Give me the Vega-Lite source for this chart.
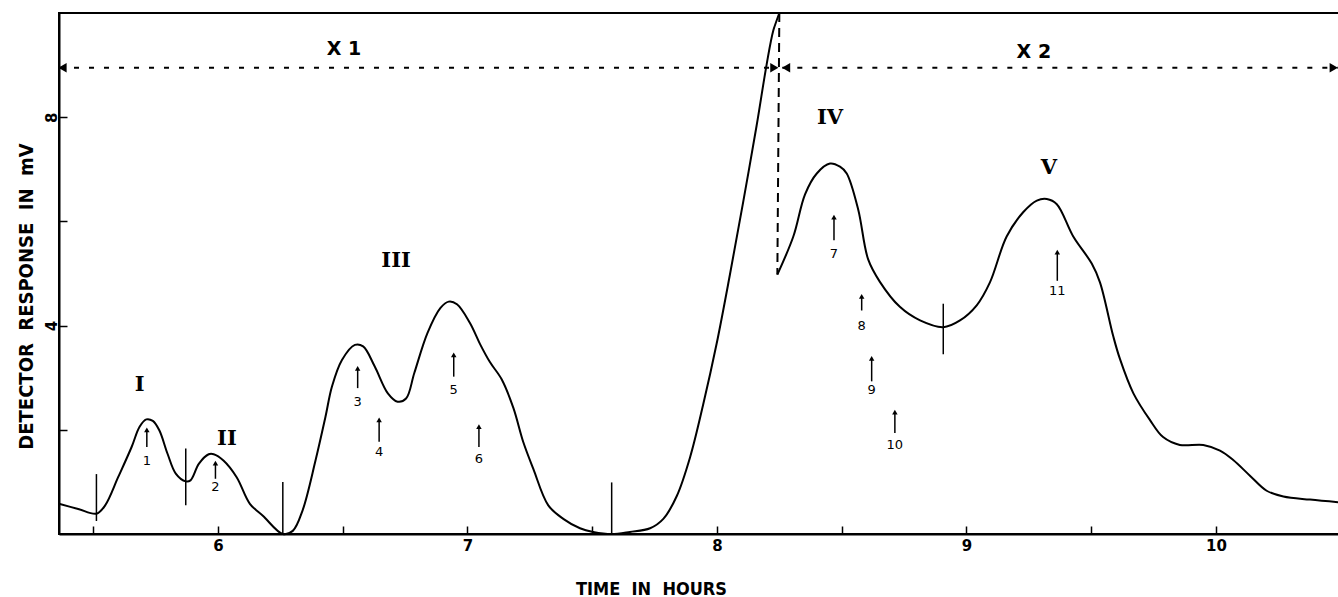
{
  "$schema": "https://vega.github.io/schema/vega-lite/v6.json",
  "width": 1281,
  "height": 521,
  "autosize": {"type": "none"},
  "padding": {"left": 59, "top": 13, "right": 0, "bottom": 63},
  "background": "white",
  "config": {
    "view": {"stroke": "black", "strokeWidth": 2},
    "font": "DejaVu Sans",
    "axis": {"grid": false, "domainColor": "black", "domainWidth": 2, "tickColor": "black", "tickWidth": 1.5, "labelColor": "black", "titleColor": "black", "labelFont": "DejaVu Sans", "titleFont": "DejaVu Sans Condensed, Liberation Sans Narrow, DejaVu Sans", "labelFontWeight": "bold", "titleFontWeight": "bold"}
  },
  "datasets": {
    "curve": [
      {"seg": "a", "x": 5.363, "y": 0.58}, {"seg": "a", "x": 5.44, "y": 0.48}, {"seg": "a", "x": 5.513, "y": 0.39},
      {"seg": "a", "x": 5.548, "y": 0.55}, {"seg": "a", "x": 5.6, "y": 1.09}, {"seg": "a", "x": 5.654, "y": 1.67},
      {"seg": "a", "x": 5.686, "y": 2.06}, {"seg": "a", "x": 5.713, "y": 2.2}, {"seg": "a", "x": 5.739, "y": 2.17},
      {"seg": "a", "x": 5.765, "y": 1.99}, {"seg": "a", "x": 5.798, "y": 1.54}, {"seg": "a", "x": 5.831, "y": 1.16},
      {"seg": "a", "x": 5.871, "y": 1.01}, {"seg": "a", "x": 5.89, "y": 1.03}, {"seg": "a", "x": 5.924, "y": 1.35},
      {"seg": "a", "x": 5.963, "y": 1.53}, {"seg": "a", "x": 5.983, "y": 1.53}, {"seg": "a", "x": 6.022, "y": 1.41},
      {"seg": "a", "x": 6.075, "y": 1.09}, {"seg": "a", "x": 6.128, "y": 0.58}, {"seg": "a", "x": 6.18, "y": 0.35},
      {"seg": "a", "x": 6.26, "y": 0.0}, {"seg": "a", "x": 6.3, "y": 0.06}, {"seg": "a", "x": 6.339, "y": 0.45},
      {"seg": "a", "x": 6.391, "y": 1.41}, {"seg": "a", "x": 6.431, "y": 2.25}, {"seg": "a", "x": 6.457, "y": 2.83},
      {"seg": "a", "x": 6.497, "y": 3.34}, {"seg": "a", "x": 6.549, "y": 3.63}, {"seg": "a", "x": 6.582, "y": 3.6},
      {"seg": "a", "x": 6.628, "y": 3.22}, {"seg": "a", "x": 6.681, "y": 2.7}, {"seg": "a", "x": 6.72, "y": 2.54},
      {"seg": "a", "x": 6.754, "y": 2.6}, {"seg": "a", "x": 6.787, "y": 3.09}, {"seg": "a", "x": 6.84, "y": 3.86},
      {"seg": "a", "x": 6.892, "y": 4.34}, {"seg": "a", "x": 6.925, "y": 4.46}, {"seg": "a", "x": 6.958, "y": 4.41},
      {"seg": "a", "x": 7.01, "y": 4.05}, {"seg": "a", "x": 7.05, "y": 3.65}, {"seg": "a", "x": 7.09, "y": 3.3},
      {"seg": "a", "x": 7.137, "y": 2.97}, {"seg": "a", "x": 7.184, "y": 2.42}, {"seg": "a", "x": 7.224, "y": 1.76},
      {"seg": "a", "x": 7.264, "y": 1.25}, {"seg": "a", "x": 7.324, "y": 0.55}, {"seg": "a", "x": 7.384, "y": 0.29},
      {"seg": "a", "x": 7.451, "y": 0.11}, {"seg": "a", "x": 7.504, "y": 0.04}, {"seg": "a", "x": 7.578, "y": 0.0},
      {"seg": "a", "x": 7.651, "y": 0.04}, {"seg": "a", "x": 7.732, "y": 0.11}, {"seg": "a", "x": 7.785, "y": 0.29},
      {"seg": "a", "x": 7.839, "y": 0.73}, {"seg": "a", "x": 7.892, "y": 1.47}, {"seg": "a", "x": 7.945, "y": 2.49},
      {"seg": "a", "x": 7.999, "y": 3.66}, {"seg": "a", "x": 8.052, "y": 4.98}, {"seg": "a", "x": 8.105, "y": 6.37},
      {"seg": "a", "x": 8.159, "y": 7.84}, {"seg": "a", "x": 8.199, "y": 9.01}, {"seg": "a", "x": 8.226, "y": 9.67},
      {"seg": "a", "x": 8.25, "y": 10.0},
      {"seg": "b", "x": 8.242, "y": 4.98}, {"seg": "b", "x": 8.306, "y": 5.71}, {"seg": "b", "x": 8.353, "y": 6.52},
      {"seg": "b", "x": 8.4, "y": 6.92}, {"seg": "b", "x": 8.453, "y": 7.11}, {"seg": "b", "x": 8.493, "y": 7.05},
      {"seg": "b", "x": 8.52, "y": 6.92}, {"seg": "b", "x": 8.566, "y": 6.23}, {"seg": "b", "x": 8.606, "y": 5.27},
      {"seg": "b", "x": 8.653, "y": 4.84}, {"seg": "b", "x": 8.733, "y": 4.36}, {"seg": "b", "x": 8.814, "y": 4.1},
      {"seg": "b", "x": 8.907, "y": 3.97}, {"seg": "b", "x": 8.974, "y": 4.1}, {"seg": "b", "x": 9.041, "y": 4.39},
      {"seg": "b", "x": 9.094, "y": 4.83}, {"seg": "b", "x": 9.161, "y": 5.71}, {"seg": "b", "x": 9.228, "y": 6.18},
      {"seg": "b", "x": 9.282, "y": 6.4}, {"seg": "b", "x": 9.322, "y": 6.43}, {"seg": "b", "x": 9.362, "y": 6.33},
      {"seg": "b", "x": 9.428, "y": 5.71}, {"seg": "b", "x": 9.502, "y": 5.19}, {"seg": "b", "x": 9.535, "y": 4.83},
      {"seg": "b", "x": 9.588, "y": 3.8}, {"seg": "b", "x": 9.615, "y": 3.36}, {"seg": "b", "x": 9.669, "y": 2.7},
      {"seg": "b", "x": 9.735, "y": 2.19}, {"seg": "b", "x": 9.788, "y": 1.86}, {"seg": "b", "x": 9.855, "y": 1.71},
      {"seg": "b", "x": 9.949, "y": 1.71}, {"seg": "b", "x": 10.016, "y": 1.6}, {"seg": "b", "x": 10.069, "y": 1.42},
      {"seg": "b", "x": 10.136, "y": 1.12}, {"seg": "b", "x": 10.203, "y": 0.83}, {"seg": "b", "x": 10.27, "y": 0.72},
      {"seg": "b", "x": 10.377, "y": 0.66}, {"seg": "b", "x": 10.489, "y": 0.61}
    ],
    "markers": [
      {"x": 5.513, "y": 0.25, "y2": 1.15},
      {"x": 5.871, "y": 0.55, "y2": 1.64},
      {"x": 6.26, "y": 0.0, "y2": 1.0},
      {"x": 7.578, "y": 0.0, "y2": 0.99},
      {"x": 8.907, "y": 3.45, "y2": 4.42}
    ],
    "drop": [{"x": 8.25, "x2": 8.242, "y": 10.0, "y2": 4.98}],
    "ranges": [
      {"label": "X 1", "x": 5.363, "x2": 8.245, "y": 8.95, "lx": 6.505, "ly": 9.3},
      {"label": "X 2", "x": 8.262, "x2": 10.489, "y": 8.95, "lx": 9.27, "ly": 9.25}
    ],
    "heads": [
      {"x": 5.377, "y": 8.95, "dir": "left"},
      {"x": 8.23, "y": 8.95, "dir": "right"},
      {"x": 8.277, "y": 8.95, "dir": "left"},
      {"x": 10.472, "y": 8.95, "dir": "right"}
    ],
    "peaks": [
      {"n": "1", "x": 5.715, "y": 1.67, "y2": 2.0, "ly": 1.4},
      {"n": "2", "x": 5.99, "y": 1.06, "y2": 1.36, "ly": 0.9},
      {"n": "3", "x": 6.56, "y": 2.8, "y2": 3.18, "ly": 2.53},
      {"n": "4", "x": 6.646, "y": 1.77, "y2": 2.19, "ly": 1.57},
      {"n": "5", "x": 6.945, "y": 3.02, "y2": 3.44, "ly": 2.76},
      {"n": "6", "x": 7.046, "y": 1.67, "y2": 2.06, "ly": 1.44},
      {"n": "7", "x": 8.469, "y": 5.64, "y2": 6.08, "ly": 5.37},
      {"n": "8", "x": 8.58, "y": 4.29, "y2": 4.56, "ly": 3.99},
      {"n": "9", "x": 8.62, "y": 2.93, "y2": 3.37, "ly": 2.77},
      {"n": "10", "x": 8.713, "y": 1.94, "y2": 2.34, "ly": 1.71},
      {"n": "11", "x": 9.364, "y": 4.86, "y2": 5.41, "ly": 4.67}
    ],
    "fractions": [
      {"label": "I", "x": 5.686, "y": 2.86},
      {"label": "II", "x": 6.036, "y": 1.83},
      {"label": "III", "x": 6.714, "y": 5.24},
      {"label": "IV", "x": 8.453, "y": 7.99},
      {"label": "V", "x": 9.33, "y": 7.03}
    ]
  },
  "layer": [
    {
      "data": {"name": "curve"},
      "mark": {"type": "line", "color": "black", "strokeWidth": 2, "interpolate": "catmull-rom"},
      "encoding": {
        "x": {"field": "x", "type": "quantitative", "scale": {"domain": [5.363, 10.497], "nice": false, "zero": false},
          "axis": {"title": "TIME\u00a0\u00a0IN\u00a0\u00a0HOURS", "values": [5.5, 6, 6.5, 7, 7.5, 8, 8.5, 9, 9.5, 10],
            "labelExpr": "datum.value % 1 === 0 ? format(datum.value, 'd') : ''",
            "tickSize": -8, "labelPadding": 12, "labelFontSize": 15, "labelBaseline": "top",
            "titleFontSize": 18, "titleX": 592, "titleY": 55, "titleAlign": "center", "titleBaseline": "middle"}},
        "y": {"field": "y", "type": "quantitative", "scale": {"domain": [0, 10], "nice": false, "zero": false},
          "axis": {"title": "DETECTOR\u00a0\u00a0RESPONSE\u00a0\u00a0IN\u00a0\u00a0mV", "values": [2, 4, 6, 8],
            "labelExpr": "datum.value === 4 || datum.value === 8 ? format(datum.value, 'd') : ''",
            "tickSize": -8, "labelPadding": 8, "labelFontSize": 15, "labelAngle": -90, "labelAlign": "center", "labelBaseline": "bottom",
            "titleFontSize": 20, "titleAngle": -90, "titleX": -33, "titleY": 283, "titleAlign": "center", "titleBaseline": "middle"}},
        "detail": {"field": "seg"}
      }
    },
    {
      "data": {"name": "markers"},
      "mark": {"type": "rule", "color": "black", "strokeWidth": 1.5},
      "encoding": {
        "x": {"field": "x", "type": "quantitative"},
        "y": {"field": "y", "type": "quantitative"},
        "y2": {"field": "y2"}
      }
    },
    {
      "data": {"name": "drop"},
      "mark": {"type": "rule", "color": "black", "strokeWidth": 2, "strokeDash": [9, 6]},
      "encoding": {
        "x": {"field": "x", "type": "quantitative"},
        "x2": {"field": "x2"},
        "y": {"field": "y", "type": "quantitative"},
        "y2": {"field": "y2"}
      }
    },
    {
      "data": {"name": "ranges"},
      "mark": {"type": "rule", "color": "black", "strokeWidth": 2, "strokeDash": [5, 10]},
      "encoding": {
        "x": {"field": "x", "type": "quantitative"},
        "x2": {"field": "x2"},
        "y": {"field": "y", "type": "quantitative"}
      }
    },
    {
      "data": {"name": "ranges"},
      "mark": {"type": "text", "color": "black", "fontSize": 19, "fontWeight": "bold", "font": "DejaVu Sans", "baseline": "middle"},
      "encoding": {
        "x": {"field": "lx", "type": "quantitative"},
        "y": {"field": "ly", "type": "quantitative"},
        "text": {"field": "label"}
      }
    },
    {
      "data": {"name": "heads"},
      "transform": [{"filter": "datum.dir === 'left'"}],
      "mark": {"type": "point", "shape": "triangle-left", "filled": true, "color": "black", "size": 90, "opacity": 1},
      "encoding": {
        "x": {"field": "x", "type": "quantitative"},
        "y": {"field": "y", "type": "quantitative"}
      }
    },
    {
      "data": {"name": "heads"},
      "transform": [{"filter": "datum.dir === 'right'"}],
      "mark": {"type": "point", "shape": "triangle-right", "filled": true, "color": "black", "size": 90, "opacity": 1},
      "encoding": {
        "x": {"field": "x", "type": "quantitative"},
        "y": {"field": "y", "type": "quantitative"}
      }
    },
    {
      "data": {"name": "peaks"},
      "mark": {"type": "rule", "color": "black", "strokeWidth": 1.5},
      "encoding": {
        "x": {"field": "x", "type": "quantitative"},
        "y": {"field": "y", "type": "quantitative"},
        "y2": {"field": "y2"}
      }
    },
    {
      "data": {"name": "peaks"},
      "mark": {"type": "point", "shape": "triangle-up", "filled": true, "color": "black", "size": 30, "opacity": 1},
      "encoding": {
        "x": {"field": "x", "type": "quantitative"},
        "y": {"field": "y2", "type": "quantitative"}
      }
    },
    {
      "data": {"name": "peaks"},
      "mark": {"type": "text", "color": "black", "fontSize": 13, "font": "DejaVu Sans", "baseline": "middle"},
      "encoding": {
        "x": {"field": "x", "type": "quantitative"},
        "y": {"field": "ly", "type": "quantitative"},
        "text": {"field": "n"}
      }
    },
    {
      "data": {"name": "fractions"},
      "mark": {"type": "text", "color": "black", "fontSize": 21, "fontWeight": "bold", "font": "DejaVu Serif", "baseline": "middle"},
      "encoding": {
        "x": {"field": "x", "type": "quantitative"},
        "y": {"field": "y", "type": "quantitative"},
        "text": {"field": "label"}
      }
    }
  ]
}
